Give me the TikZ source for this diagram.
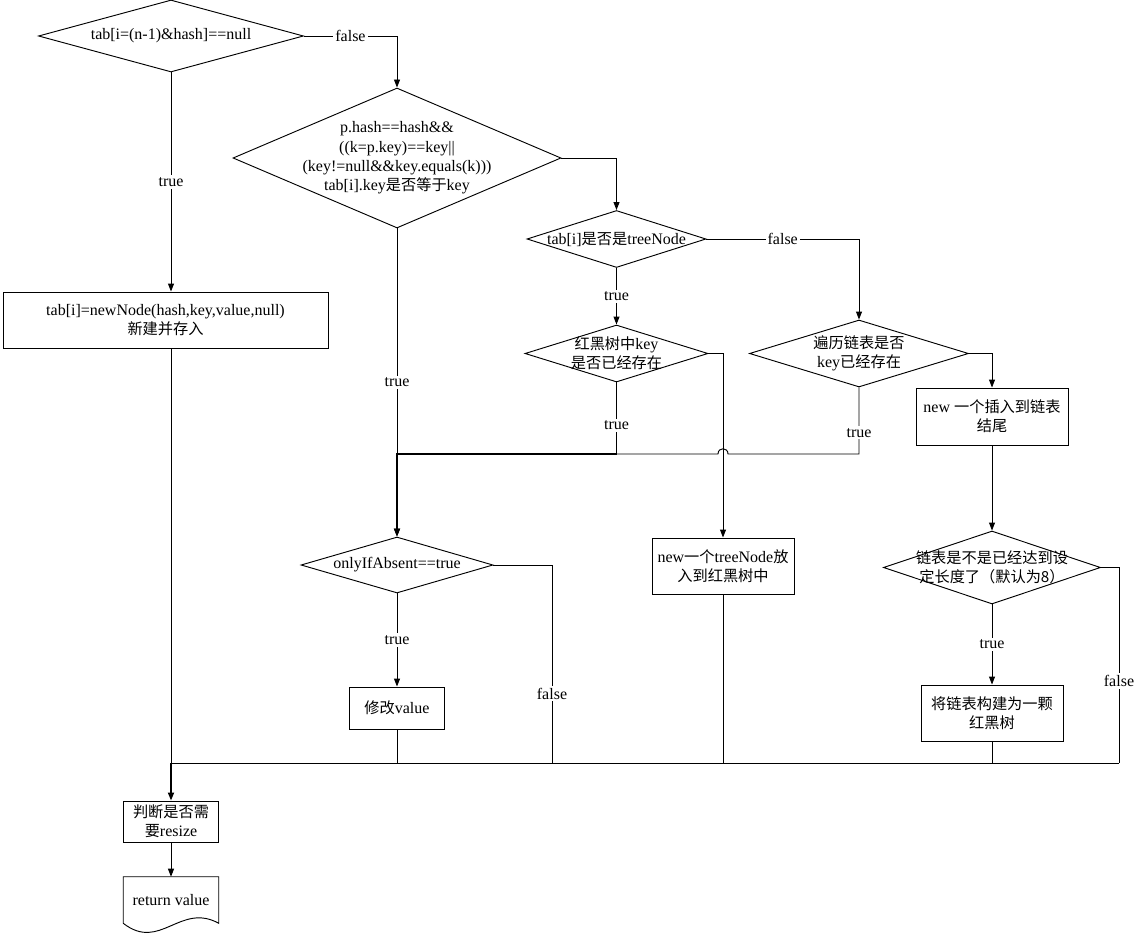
\documentclass[tikz,border=0pt]{standalone}
\usepackage{fontspec}
\setmainfont{Liberation Serif}
\newfontfamily\cjk[Scale=0.95]{Noto Sans CJK SC}
\usetikzlibrary{arrows.meta,shapes.geometric,calc}
\newdimen\pxu \pxu=0.75pt
\newcommand\zh[1]{{\cjk #1}}
\begin{document}
\begin{tikzpicture}[x=0.75pt,y=-0.75pt,
 font=\fontsize{12}{14.5}\selectfont,
 ln/.style={draw=black,line width=0.7pt},
 bold/.style={draw=black,line width=1.3pt},
 arr/.style={-{Triangle[length=6pt,width=4.5pt]}},
 dia/.style={draw, diamond, inner sep=0pt, line width=0.7pt},
 txt/.style={align=center, inner sep=0pt},
 box/.style={draw, rectangle, line width=0.7pt, align=center, inner sep=1pt},
 lbl/.style={fill=white, inner sep=1.5pt}]

\useasboundingbox (0,0) rectangle (1134,934);

% diamonds
\node[dia, minimum width=265\pxu, minimum height=72\pxu] (d1) at (171,36) {};
\node[txt] (t1) at (d1) {tab[i=(n-1)\&hash]==null};

\node[dia, minimum width=328\pxu, minimum height=140\pxu] (d2) at (397,158) {};
\node[txt] (t2) at (d2) {p.hash==hash\&\&\\((k=p.key)==key||\\(key!=null\&\&key.equals(k)))\\tab[i].key\zh{是否等于}key};

\node[dia, minimum width=179\pxu, minimum height=57\pxu] (d3) at (616.5,239) {};
\node[txt] (t3) at (d3) {tab[i]\zh{是否是}treeNode};

\node[dia, minimum width=183\pxu, minimum height=57\pxu] (d4) at (616.5,353.5) {};
\node[txt] (t4) at (d4) {\zh{红黑树中}key\\\zh{是否已经存在}};

\node[dia, minimum width=219\pxu, minimum height=67\pxu] (d5) at (859,353.5) {};
\node[txt] (t5) at (d5) {\zh{遍历链表是否}\\key\zh{已经存在}};

\node[dia, minimum width=192\pxu, minimum height=56\pxu] (d6) at (397,565) {};
\node[txt] (t6) at (d6) {onlyIfAbsent==true};

\node[dia, minimum width=217\pxu, minimum height=73\pxu] (d7) at (992,567.5) {};
\node[txt] (t7) at (d7) {\zh{链表是不是已经达到设}\\\zh{定长度了（默认为8）}};

% boxes
\node[box, minimum width=325\pxu, minimum height=56\pxu] (b1) at (165.5,320) {tab[i]=newNode(hash,key,value,null)\\\zh{新建并存入}};
\node[box, minimum width=152\pxu, minimum height=57\pxu] (bins) at (992,416.5) {new \zh{一个插入到链表}\\\zh{结尾}};
\node[box, minimum width=142\pxu, minimum height=56\pxu] (bnt) at (723,566) {new\zh{一个}treeNode\zh{放}\\\zh{入到红黑树中}};
\node[box, minimum width=142\pxu, minimum height=56\pxu] (bred) at (992,713) {\zh{将链表构建为一颗}\\\zh{红黑树}};
\node[box, minimum width=95\pxu, minimum height=42\pxu] (bmod) at (397,708) {\zh{修改}value};
\node[box, minimum width=95\pxu, minimum height=41\pxu] (judge) at (171,821.5) {\zh{判断是否需}\\\zh{要}resize};
\node[minimum width=95\pxu, minimum height=46\pxu, inner sep=0pt] (doc) at (171,900) {return value};
\draw[ln] (doc.south west) -- (doc.north west) -- (doc.north east) -- (doc.south east)
  .. controls (180,902) and (160,952) .. (doc.south west);

% helper coordinates
\coordinate (yM) at (0,454);
\coordinate (yB) at (0,763);
\coordinate (c2) at (d2.south |- yM);
\coordinate (c4) at (d4.south |- yM);
\coordinate (c5) at (d5.south |- yM);
\coordinate (xj) at (bnt.north |- yM);
\coordinate (cL) at (judge.north |- yB);
\coordinate (cR) at (1119,763);
\coordinate (x6) at (552,0);

% connectors
\draw[ln,arr] (d1.east) -- node[lbl]{false} (d1.east -| d2.north) -- (d2.north);
\draw[ln,arr] (d1.south) -- node[lbl]{true} (d1.south |- b1.north);
\draw[ln] (b1.south -| judge.north) -- (cL);
\draw[ln] (cR) -- (cL);
\draw[bold,arr] (cL) -- (judge.north);
\draw[ln,arr] (judge.south) -- (doc.north);

\draw[ln,arr] (d2.east) -| (d3.north);
\draw[ln,arr] (d2.south) -- node[lbl]{true} (d6.north);
\draw[bold,arr] (c4) -- (c2) -- (d6.north);

\draw[ln,arr] (d3.east) -| node[lbl,pos=0.25]{false} (d5.north);
\draw[ln,arr] (d3.south) -- node[lbl]{true} (d4.north);
\draw[ln,arr] (d4.east) -| (bnt.north);
\draw[ln] (d4.south) -- node[lbl,pos=0.6]{true} (c4);
\draw[ln] (d5.south) -- node[lbl,pos=0.68]{true} (c5) -- ($(xj)+(5,0)$)
  .. controls ($(xj)+(5,-7)$) and ($(xj)+(-5,-7)$) .. ($(xj)+(-5,0)$) -- (c4);

\draw[ln,arr] (d5.east) -| (bins.north);
\draw[ln,arr] (bins.south) -- (d7.north);
\draw[ln,arr] (d7.south) -- node[lbl]{true} (bred.north);
\draw[ln] (d7.east) -- (d7.east -| cR) -- node[lbl,pos=0.58]{false} (cR);
\draw[ln] (bred.south) -- (bred.south |- yB);

\draw[ln] (d6.east) -- (d6.east -| x6) -- node[lbl,pos=0.65]{false} (x6 |- yB);
\draw[ln,arr] (d6.south) -- node[lbl]{true} (bmod.north);
\draw[ln] (bmod.south) -- (bmod.south |- yB);
\draw[ln] (bnt.south) -- (bnt.south |- yB);
\end{tikzpicture}
\end{document}
